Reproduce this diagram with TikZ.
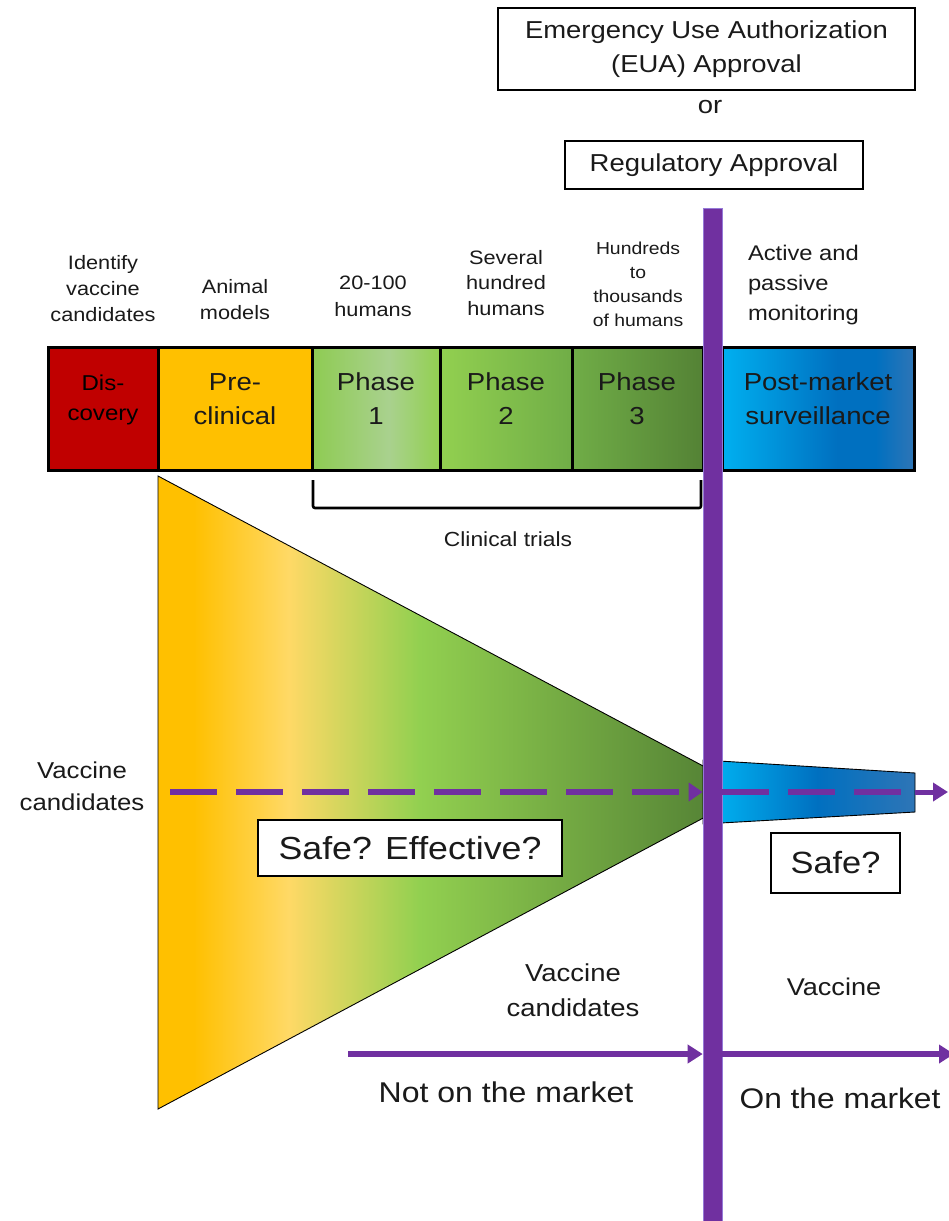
\documentclass[tikz,border=0pt]{standalone}
\usepackage{fontspec}
\setmainfont{Liberation Sans}[FakeStretch=1.12]
\usetikzlibrary{arrows.meta}
\definecolor{barpurple}{HTML}{7030A0}
\definecolor{txt}{HTML}{1A1A1A}
\definecolor{discred}{HTML}{C00000}
\definecolor{preorange}{HTML}{FFC000}
\definecolor{lightyel}{HTML}{FFD966}
\definecolor{gA}{HTML}{8ECB52}
\definecolor{gL}{HTML}{A9D18E}
\definecolor{gB}{HTML}{92D050}
\definecolor{gC}{HTML}{70AD47}
\definecolor{gD}{HTML}{548235}
\definecolor{bA}{HTML}{00B0F0}
\definecolor{bB}{HTML}{0070C0}
\definecolor{bC}{HTML}{2E75B6}
\pgfdeclarehorizontalshading{phaseone}{100bp}{color(0bp)=(gA); color(25bp)=(gA); color(55bp)=(gL); color(75bp)=(gB); color(100bp)=(gB)}
\pgfdeclarehorizontalshading{phasetwo}{100bp}{color(0bp)=(gB); color(25bp)=(gB); color(75bp)=(gC); color(100bp)=(gC)}
\pgfdeclarehorizontalshading{phasethree}{100bp}{color(0bp)=(gC); color(25bp)=(gC); color(75bp)=(gD); color(100bp)=(gD)}
\pgfdeclarehorizontalshading{postm}{100bp}{color(0bp)=(bA); color(25bp)=(bA); color(55bp)=(bB); color(65bp)=(bB); color(75bp)=(bC); color(100bp)=(bC)}
\pgfdeclarehorizontalshading{funnel}{100bp}{color(0bp)=(preorange); color(25bp)=(preorange); color(28bp)=(preorange); color(36bp)=(lightyel); color(47bp)=(gB); color(72bp)=(gD); color(100bp)=(gD)}
\pgfdeclarehorizontalshading{trap}{100bp}{color(0bp)=(bA); color(25bp)=(bA); color(28bp)=(bA); color(52bp)=(bB); color(75bp)=(bC); color(100bp)=(bC)}
\begin{document}
\begin{tikzpicture}[x=1pt,y=-1pt,
  lbl/.style={align=center, inner sep=0pt, outer sep=0pt, text=txt},
  tbox/.style={draw=black, line width=1.4pt, fill=white, inner sep=0pt, text=txt},
  stagebox/.style={draw=black, line width=3pt, inner sep=0pt, outer sep=0pt, minimum height=123pt},
  parrow/.style={-{Triangle[length=15pt,width=18pt]}, draw=barpurple, line width=5.5pt},
  pdash/.style={draw=barpurple, line width=5.5pt, dash pattern=on 47pt off 19pt},
]
\useasboundingbox (0,0) rectangle (949,1221);
\fill[white] (0,0) rectangle (949,1221);

% approval boxes
\node[tbox, minimum width=417pt, minimum height=82pt, font=\fontsize{24.5}{34}\selectfont, align=center] (eua) at (706.5,49) {Emergency Use Authorization\\(EUA) Approval};
\node[lbl, font=\fontsize{24.5}{30}\selectfont] (or) at (710,107) {or};
\node[tbox, minimum width=298pt, minimum height=48pt, font=\fontsize{24.5}{30}\selectfont] (reg) at (714,165) {Regulatory Approval};

% labels above stages
\node[lbl, font=\fontsize{19.4}{26}\selectfont] (l1) at (103,289) {Identify\\vaccine\\candidates};
\node[lbl, font=\fontsize{19.4}{26}\selectfont] (l2) at (235,300) {Animal\\models};
\node[lbl, font=\fontsize{19.4}{27}\selectfont] (l3) at (373,296) {20-100\\humans};
\node[lbl, font=\fontsize{19.4}{25.5}\selectfont] (l4) at (506,283) {Several\\hundred\\humans};
\node[lbl, font=\fontsize{17.3}{24}\selectfont] (l5) at (638,284) {Hundreds\\to\\thousands\\of humans};
\node[lbl, font=\fontsize{21.2}{30}\selectfont, align=left, anchor=west] (l6) at (748,285) {Active and\\passive\\monitoring};

% funnel
\path[draw=black, line width=0.9pt, shade, shading=funnel] (158,476) -- (752,792) -- (158,1109) -- cycle;
\path[draw=black, line width=0.9pt, shade, shading=trap] (703,760) -- (915,773) -- (915,812) -- (703,824) -- cycle;

% stages
\node[stagebox, fill=discred, minimum width=110pt] (disc) at (103,408.5) {};
\node[stagebox, fill=preorange, minimum width=154pt] (pre) at (235,408.5) {};
\node[stagebox, shade, shading=phaseone, minimum width=128pt] (p1) at (376,408.5) {};
\node[stagebox, shade, shading=phasetwo, minimum width=132pt] (p2) at (506,408.5) {};
\node[stagebox, shade, shading=phasethree, minimum width=131pt] (p3) at (637.5,408.5) {};
\node[stagebox, shade, shading=postm, minimum width=192pt] (post) at (818,408.5) {};
\node[lbl, font=\fontsize{21.5}{30}\selectfont, text=black] (tdisc) at (103,400) {Dis-\\covery};
\node[lbl, font=\fontsize{24.6}{34}\selectfont] (tpre) at (235,399) {Pre-\\clinical};
\node[lbl, font=\fontsize{24.6}{34}\selectfont] (tp1) at (376,399) {Phase\\1};
\node[lbl, font=\fontsize{24.6}{34}\selectfont] (tp2) at (506,399) {Phase\\2};
\node[lbl, font=\fontsize{24.6}{34}\selectfont] (tp3) at (637,399) {Phase\\3};
\node[lbl, font=\fontsize{24.6}{34}\selectfont] (tpost) at (818,399) {Post-market\\surveillance};

% clinical trials bracket
\coordinate (brL) at (313,480);
\coordinate (brR) at (701,480);
\draw[black, line width=2.6pt, rounded corners=2pt] (brL) -- ++(0,28) -- (brR |- 0,508) -- (brR);
\node[lbl, font=\fontsize{20.4}{26}\selectfont] (ct) at (508,539) {Clinical trials};

% purple bar
\node[fill=barpurple, draw=barpurple!70!blue!60!white, line width=0.6pt, minimum width=19pt, minimum height=1020pt, inner sep=0pt, anchor=north] (bar) at (712.5,208) {};

% dashed flow
\coordinate (dstart) at (170,792);
\coordinate (trapR) at (915,792);
\coordinate (dend) at (948,792);
\draw[pdash, -{Triangle[length=14pt,width=18pt]}] (dstart) -- (dstart -| bar.west);
\draw[pdash] (dstart -| bar.east) -- (trapR);
\draw[parrow, line width=5pt] (trapR) -- (dend);

% text boxes
\node[lbl, font=\fontsize{23}{32}\selectfont] (vc1) at (82,786) {Vaccine\\candidates};
\node[tbox, minimum width=304pt, minimum height=56pt, font=\fontsize{31.9}{36}\selectfont] (se) at (410,848) {Safe? Effective?};
\node[tbox, minimum width=129pt, minimum height=60pt, font=\fontsize{30.7}{36}\selectfont] (safe) at (835.5,863) {Safe?};

% bottom
\node[lbl, font=\fontsize{24.5}{35}\selectfont] (vc2) at (573,990) {Vaccine\\candidates};
\node[lbl, font=\fontsize{24.2}{30}\selectfont] (vac) at (834,987) {Vaccine};
\coordinate (bstart) at (348,1054);
\coordinate (bend) at (954,1054);
\draw[parrow] (bstart) -- (bstart -| bar.west);
\draw[parrow] (bstart -| bar.east) -- (bend);
\node[lbl, font=\fontsize{28.6}{34}\selectfont] (notm) at (506,1092) {Not on the market};
\node[lbl, font=\fontsize{28.3}{34}\selectfont] (onm) at (840,1098) {On the market};
\end{tikzpicture}
\end{document}
